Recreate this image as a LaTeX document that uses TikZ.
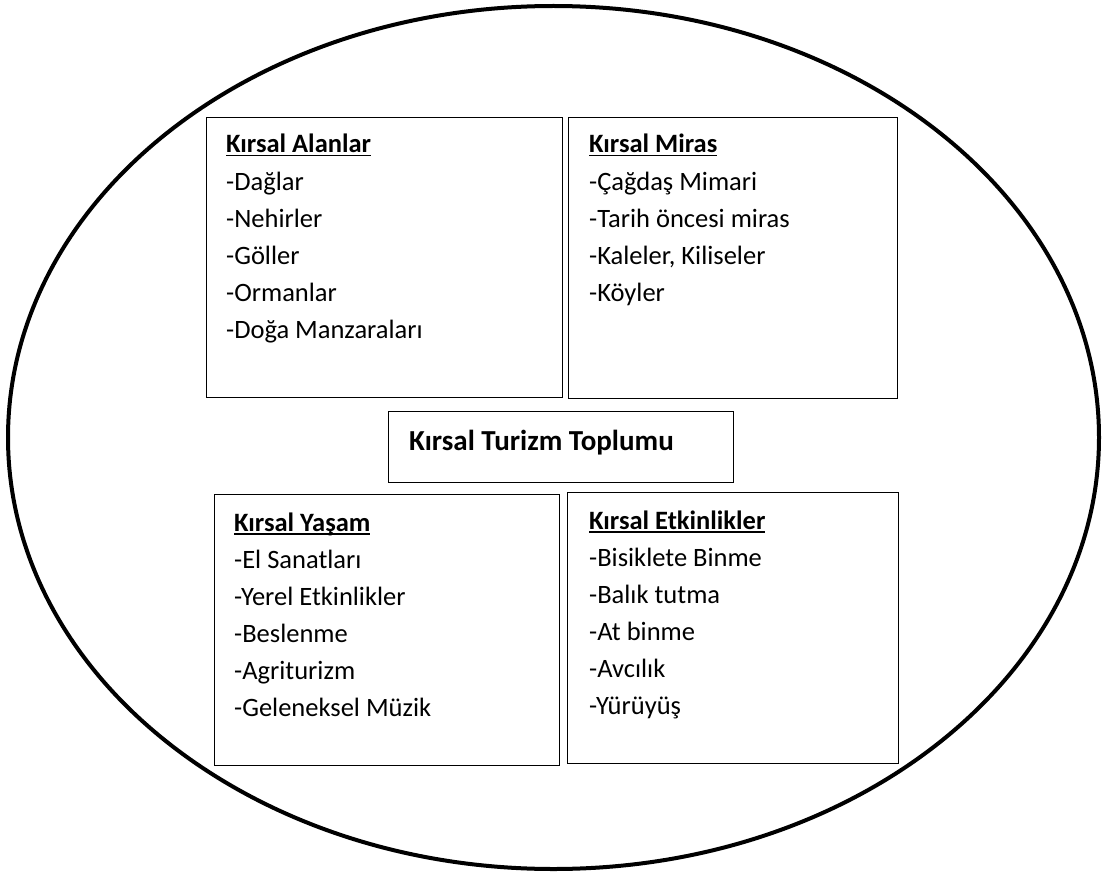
\documentclass[tikz,border=0pt]{standalone}
\usepackage{fontspec}
\setmainfont{Carlito}
\newcommand{\ulhead}[1]{\setbox0\hbox{\bfseries #1}\rlap{\rule[-3.5pt]{\wd0}{1.6pt}}\box0}
\begin{document}
\begin{tikzpicture}[x=1pt,y=-1pt,
  boxstyle/.style={draw=black, line width=1.2pt, inner sep=0pt, anchor=north west},
  itemtext/.style={anchor=base west, inner sep=0pt, font=\fontsize{26.5}{37}\selectfont},
  titletext/.style={anchor=base west, inner sep=0pt, font=\bfseries\fontsize{29}{35}\selectfont},
]
\useasboundingbox (0,0) rectangle (1103,872);
\draw[line width=4pt] (553.5,437.5) ellipse [x radius=545.5, y radius=431.5];

% boxes
\node[boxstyle, minimum width=356pt, minimum height=280pt] (alanlar) at (206,117) {};
\node[boxstyle, minimum width=329pt, minimum height=281pt] (miras) at (568,117) {};
\node[boxstyle, minimum width=345pt, minimum height=71pt] (turizm) at (388,411) {};
\node[boxstyle, minimum width=345pt, minimum height=271pt] (yasam) at (214,494) {};
\node[boxstyle, minimum width=331pt, minimum height=271pt] (etkinlik) at (567,492) {};

% Kırsal Alanlar
\node[itemtext] (alanlar-h) at (226,153) {\ulhead{Kırsal Alanlar}};
\foreach \t [count=\i] in {-Dağlar,-Nehirler,-Göller,-Ormanlar,-Doğa Manzaraları}
  \node[itemtext] (alanlar-\i) at (226,153+37*\i) {\t};

% Kırsal Miras
\node[itemtext] (miras-h) at (589,153) {\ulhead{Kırsal Miras}};
\foreach \t [count=\i] in {-Çağdaş Mimari,-Tarih öncesi miras,{-Kaleler, Kiliseler},-Köyler}
  \node[itemtext] (miras-\i) at (589,153+37*\i) {\t};

% Title
\node[titletext] (turizm-t) at (409,450) {Kırsal Turizm Toplumu};

% Kırsal Yaşam
\node[itemtext] (yasam-h) at (234,531) {\ulhead{Kırsal Yaşam}};
\foreach \t [count=\i] in {-El Sanatları,-Yerel Etkinlikler,-Beslenme,-Agriturizm,-Geleneksel Müzik}
  \node[itemtext] (yasam-\i) at (234,531+37*\i) {\t};

% Kırsal Etkinlikler
\node[itemtext] (etkinlik-h) at (589,529) {\ulhead{Kırsal Etkinlikler}};
\foreach \t [count=\i] in {-Bisiklete Binme,-Balık tutma,-At binme,-Avcılık,-Yürüyüş}
  \node[itemtext] (etkinlik-\i) at (589,529+37*\i) {\t};
\end{tikzpicture}
\end{document}
